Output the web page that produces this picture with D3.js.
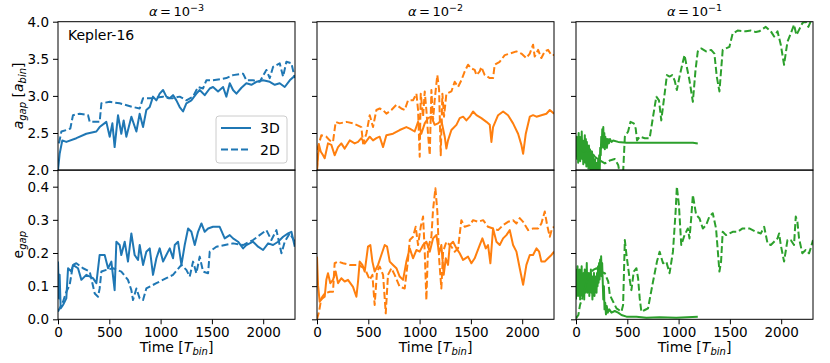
<!DOCTYPE html>
<html>
<head>
<meta charset="utf-8">
<script src="https://cdn.jsdelivr.net/npm/d3@7"></script>
<style>
body { margin: 0; background: #fff; }
text { font-family: "DejaVu Sans", sans-serif; fill: #000; }
</style>
</head>
<body>
<div id="chart"></div>
<script>
// column titles and tick labels
var alphaExp = ["\u22123", "\u22122", "\u22121"];
var xTicks = [0, 500, 1000, 1500, 2000];
var agapTicks = [2.0, 2.5, 3.0, 3.5, 4.0];
var egapTicks = [0.0, 0.1, 0.2, 0.3, 0.4];
var seriesColors = ["#1f77b4", "#ff7f0e", "#2ca02c"];

// alpha = 1e-3, [time, value]
var agap_a3_3d = [[0,2.00],[16,2.22],[42,2.40],[81,2.38],[179,2.43],[276,2.49],[374,2.52],[406,2.58],[471,2.65],[504,2.45],[530,2.63],[552,2.31],[585,2.74],[617,2.49],[640,2.67],[666,2.45],[715,2.72],[764,2.52],[796,2.76],[829,2.58],[861,2.81],[894,2.85],[926,2.99],[959,2.94],[991,3.03],[1024,3.08],[1056,2.99],[1089,2.97],[1121,3.01],[1154,2.94],[1186,2.85],[1219,2.79],[1251,2.90],[1300,2.94],[1349,3.03],[1381,3.08],[1430,3.01],[1479,3.10],[1511,3.12],[1560,3.06],[1609,3.12],[1641,2.99],[1674,3.17],[1706,3.08],[1739,3.03],[1788,3.11],[1836,3.17],[1885,3.15],[1934,3.19],[1999,3.21],[2064,3.19],[2113,3.15],[2161,3.17],[2210,3.12],[2259,3.21],[2308,3.27]];
var agap_a3_2d = [[10,2.36],[33,2.52],[81,2.54],[120,2.56],[146,2.74],[211,2.76],[293,2.74],[309,2.65],[406,2.65],[423,2.90],[504,2.92],[601,2.90],[731,2.85],[796,2.83],[829,2.97],[926,2.97],[1024,2.99],[1073,2.97],[1121,2.97],[1186,2.99],[1251,2.94],[1316,2.99],[1365,3.12],[1414,3.10],[1446,3.21],[1511,3.21],[1641,3.24],[1706,3.28],[1804,3.30],[1836,3.21],[1901,3.21],[1966,3.19],[2031,3.35],[2064,3.24],[2096,3.39],[2161,3.44],[2194,3.26],[2226,3.46],[2275,3.44],[2308,3.24]];
var egap_a3_3d = [[0,.174],[10,.063],[16,.134],[26,.033],[49,.043],[81,.063],[98,.154],[130,.144],[146,.164],[195,.154],[228,.119],[276,.134],[341,.124],[374,.109],[406,.194],[455,.194],[488,.154],[520,.174],[552,.088],[569,.234],[601,.224],[617,.194],[650,.234],[682,.174],[715,.259],[747,.194],[780,.179],[796,.224],[829,.164],[861,.204],[894,.214],[926,.134],[959,.184],[991,.214],[1024,.174],[1056,.194],[1089,.214],[1121,.184],[1138,.224],[1170,.234],[1203,.164],[1235,.224],[1268,.274],[1300,.264],[1333,.224],[1365,.264],[1398,.289],[1430,.264],[1463,.274],[1511,.279],[1576,.279],[1625,.244],[1674,.254],[1706,.244],[1755,.234],[1804,.214],[1836,.224],[1901,.234],[1950,.219],[1999,.209],[2048,.229],[2096,.224],[2145,.234],[2194,.249],[2243,.259],[2275,.264],[2308,.219]];
var egap_a3_2d = [[0,.023],[16,.033],[49,.053],[81,.083],[114,.104],[146,.164],[179,.169],[244,.154],[309,.144],[358,.078],[390,.068],[406,.093],[423,.144],[471,.149],[536,.154],[617,.144],[682,.119],[715,.088],[731,.058],[764,.093],[796,.063],[829,.058],[861,.093],[959,.109],[1056,.124],[1121,.134],[1203,.164],[1251,.149],[1284,.129],[1316,.174],[1349,.139],[1381,.189],[1414,.144],[1463,.139],[1479,.204],[1544,.219],[1706,.229],[1804,.224],[1901,.239],[2031,.269],[2080,.239],[2129,.269],[2178,.199],[2210,.234],[2259,.259],[2308,.234]];

// alpha = 1e-2
var agap_a2_3d = [[0,2.00],[10,2.18],[20,2.34],[36,2.25],[59,2.20],[75,2.16],[107,2.36],[140,2.34],[172,2.20],[205,2.31],[237,2.36],[270,2.29],[319,2.40],[367,2.36],[400,2.38],[432,2.43],[465,2.36],[514,2.45],[546,2.40],[579,2.43],[611,2.45],[644,2.31],[676,2.47],[741,2.49],[806,2.54],[871,2.58],[904,2.56],[952,2.52],[985,2.65],[1001,2.58],[1017,2.49],[1050,2.63],[1082,2.70],[1115,2.72],[1147,2.61],[1180,2.63],[1212,2.67],[1245,2.45],[1261,2.29],[1277,2.40],[1310,2.54],[1359,2.61],[1391,2.70],[1424,2.72],[1456,2.67],[1489,2.72],[1521,2.79],[1554,2.74],[1602,2.70],[1651,2.65],[1684,2.61],[1700,2.38],[1716,2.58],[1765,2.74],[1814,2.79],[1862,2.74],[1911,2.63],[1960,2.49],[1992,2.34],[2009,2.22],[2035,2.49],[2074,2.72],[2106,2.74],[2139,2.72],[2187,2.74],[2236,2.76],[2269,2.81],[2311,2.76]];
var agap_a2_2d = [[0,2.00],[10,2.31],[42,2.47],[91,2.45],[124,2.40],[156,2.38],[182,2.65],[221,2.63],[286,2.65],[351,2.63],[432,2.58],[449,2.36],[481,2.49],[514,2.74],[546,2.58],[579,2.81],[611,2.83],[644,2.81],[676,2.76],[725,2.81],[774,2.88],[822,2.83],[855,2.81],[887,2.94],[936,2.94],[969,3.03],[985,2.81],[1001,2.18],[1011,3.03],[1034,2.72],[1050,3.06],[1066,2.81],[1082,2.49],[1099,2.20],[1115,3.08],[1131,2.67],[1147,2.94],[1164,3.17],[1173,3.28],[1190,3.08],[1206,2.20],[1222,3.03],[1238,2.72],[1261,3.03],[1310,3.06],[1342,3.19],[1375,3.12],[1407,3.21],[1440,3.33],[1472,3.42],[1505,3.37],[1537,3.35],[1554,3.28],[1586,3.33],[1602,3.39],[1635,3.28],[1684,3.24],[1716,3.24],[1732,3.42],[1781,3.46],[1830,3.55],[1879,3.57],[1944,3.60],[1992,3.57],[2041,3.51],[2074,3.57],[2106,3.69],[2122,3.53],[2155,3.62],[2187,3.51],[2220,3.60],[2252,3.62],[2285,3.55],[2311,3.55]];
var egap_a2_3d = [[0,.189],[10,.103],[26,.053],[52,.063],[75,.068],[91,.119],[107,.139],[130,.109],[156,.119],[182,.144],[205,.109],[237,.124],[270,.114],[302,.119],[351,.098],[384,.068],[400,.114],[416,.174],[442,.164],[465,.144],[497,.219],[520,.224],[540,.174],[562,.144],[595,.164],[627,.194],[660,.224],[683,.219],[709,.174],[741,.164],[774,.154],[806,.129],[839,.119],[871,.174],[904,.214],[936,.184],[969,.209],[1001,.204],[1034,.224],[1066,.234],[1099,.204],[1131,.244],[1164,.254],[1190,.199],[1212,.224],[1235,.134],[1255,.184],[1277,.164],[1294,.224],[1326,.234],[1359,.214],[1391,.199],[1424,.179],[1472,.189],[1505,.169],[1537,.184],[1586,.224],[1612,.244],[1645,.214],[1667,.224],[1690,.169],[1716,.274],[1749,.234],[1781,.224],[1814,.244],[1846,.254],[1879,.269],[1911,.224],[1944,.204],[1976,.154],[2009,.104],[2041,.164],[2074,.194],[2106,.194],[2139,.214],[2165,.204],[2187,.174],[2220,.174],[2252,.184],[2285,.194],[2311,.204]];
var egap_a2_2d = [[0,0],[20,.023],[42,.063],[75,.078],[124,.083],[156,.083],[172,.169],[205,.174],[254,.169],[319,.164],[400,.164],[465,.154],[514,.119],[540,.134],[562,.043],[585,.144],[611,.159],[644,.134],[670,.018],[692,.134],[725,.154],[757,.134],[806,.098],[855,.093],[887,.179],[904,.239],[936,.249],[962,.279],[985,.224],[1011,.279],[1034,.310],[1050,.204],[1066,.058],[1082,.214],[1115,.249],[1131,.330],[1154,.395],[1173,.325],[1190,.184],[1212,.093],[1229,.204],[1261,.234],[1310,.219],[1342,.204],[1375,.214],[1407,.299],[1440,.279],[1489,.284],[1521,.299],[1570,.294],[1619,.299],[1667,.279],[1716,.274],[1765,.269],[1814,.284],[1862,.294],[1911,.299],[1944,.289],[1976,.305],[2009,.294],[2057,.269],[2106,.274],[2155,.274],[2187,.289],[2220,.325],[2243,.284],[2269,.249],[2291,.274],[2311,.279]];

// alpha = 1e-1
var agap_a1_3d = [[0,2.27],[6,2.45],[11,2.15],[16,2.42],[21,2.10],[26,2.50],[31,2.20],[36,2.45],[41,2.12],[46,2.38],[51,2.18],[56,2.52],[61,2.15],[66,2.40],[71,2.08],[76,2.35],[81,2.20],[86,2.47],[91,2.10],[96,2.42],[101,2.05],[106,2.38],[111,2.15],[116,2.30],[121,2.02],[126,2.33],[131,2.10],[136,2.28],[141,2.00],[146,2.20],[151,1.98],[156,2.25],[161,2.05],[166,2.18],[171,1.95],[176,2.12],[181,2.00],[186,2.15],[191,1.96],[196,2.10],[201,2.00],[206,2.08],[211,1.95],[216,2.15],[221,2.02],[226,2.20],[231,1.97],[236,2.30],[241,2.20],[246,2.45],[251,2.30],[256,2.55],[261,2.35],[266,2.58],[271,2.30],[276,2.50],[281,2.28],[286,2.45],[291,2.35],[296,2.42],[301,2.30],[311,2.42],[321,2.36],[331,2.42],[346,2.38],[362,2.40],[411,2.38],[492,2.37],[653,2.37],[815,2.37],[977,2.37],[1139,2.37],[1187,2.36]];
var agap_a1_2d = [[0,2.18],[39,2.31],[87,2.22],[136,2.27],[184,2.18],[233,2.13],[281,2.09],[330,2.13],[378,2.15],[411,2.07],[433,1.91],[459,1.96],[476,2.45],[508,2.52],[531,2.65],[563,2.63],[582,2.56],[595,2.40],[621,2.45],[670,2.43],[718,2.43],[751,2.72],[783,2.99],[809,2.94],[831,2.67],[864,3.03],[886,3.28],[912,3.26],[938,3.28],[961,3.21],[983,3.08],[1009,3.26],[1035,3.42],[1058,3.55],[1080,3.39],[1106,3.21],[1139,2.92],[1165,3.35],[1187,3.60],[1220,3.64],[1268,3.60],[1317,3.62],[1349,3.57],[1372,3.26],[1398,3.06],[1430,3.62],[1462,3.64],[1495,3.66],[1527,3.84],[1575,3.88],[1656,3.87],[1705,3.88],[1753,3.86],[1786,3.87],[1850,3.93],[1899,3.87],[1931,3.80],[1964,3.87],[1996,3.69],[2028,3.42],[2061,3.73],[2093,3.84],[2125,3.96],[2148,3.82],[2174,3.89],[2206,3.98],[2239,4.00],[2265,3.93],[2287,4.00],[2310,3.98]];
var egap_a1_3d = [[0,.06],[5,.15],[10,.08],[15,.16],[20,.07],[25,.14],[30,.09],[35,.15],[40,.06],[45,.13],[50,.08],[55,.16],[60,.07],[65,.12],[70,.09],[75,.14],[80,.06],[85,.15],[90,.08],[95,.12],[100,.10],[105,.17],[110,.08],[115,.13],[120,.09],[125,.14],[130,.07],[135,.12],[140,.10],[145,.15],[150,.08],[155,.13],[160,.06],[165,.11],[170,.09],[175,.14],[180,.07],[185,.12],[190,.09],[195,.13],[200,.08],[205,.14],[210,.10],[215,.16],[220,.11],[225,.17],[230,.12],[235,.18],[240,.14],[245,.19],[250,.13],[255,.17],[260,.12],[266,.06],[272,.10],[278,.03],[285,.05],[292,.015],[300,.04],[310,.02],[324,.03],[346,.02],[378,.025],[411,.02],[443,.013],[492,.008],[589,.008],[686,.005],[815,.006],[977,.005],[1187,.008]];
var egap_a1_2d = [[0,.003],[23,.013],[39,.043],[71,.073],[104,.114],[136,.134],[168,.149],[201,.154],[233,.144],[281,.139],[314,.114],[330,.073],[362,.053],[395,.033],[443,.023],[459,.043],[476,.239],[492,.194],[524,.119],[540,.088],[563,.144],[589,.154],[605,.124],[621,.063],[637,.023],[670,.028],[702,.033],[751,.114],[789,.174],[815,.204],[848,.169],[880,.174],[912,.139],[945,.204],[971,.325],[983,.400],[1003,.345],[1026,.224],[1058,.254],[1090,.274],[1106,.244],[1123,.305],[1139,.375],[1171,.315],[1203,.305],[1236,.274],[1268,.284],[1300,.310],[1333,.320],[1365,.274],[1398,.144],[1414,.174],[1430,.264],[1462,.254],[1495,.259],[1527,.264],[1575,.264],[1624,.274],[1689,.274],[1753,.264],[1802,.259],[1834,.279],[1867,.229],[1899,.224],[1931,.234],[1964,.244],[1980,.259],[1996,.224],[2028,.174],[2061,.239],[2093,.239],[2125,.224],[2142,.310],[2158,.294],[2174,.244],[2206,.199],[2239,.209],[2271,.199],[2287,.214],[2310,.239]];

var agapData = [[agap_a3_3d, agap_a3_2d], [agap_a2_3d, agap_a2_2d], [agap_a1_3d, agap_a1_2d]];
var egapData = [[egap_a3_3d, egap_a3_2d], [egap_a2_3d, egap_a2_2d], [egap_a1_3d, egap_a1_2d]];

// layout
var colLeft = [58, 317, 576],
    panelW = 237,
    topY = 21.7,
    topH = 148.4,
    botY = 170.1,
    botH = 149.2;

var svg = d3.select("#chart")
    .append("svg")
    .attr("width", 830)
    .attr("height", 363);

var x = d3.scaleLinear().domain([0, 2310]).range([0, panelW]);
var yTop = d3.scaleLinear().domain([2.0, 4.0]).range([topH, 0]);
var yBot = d3.scaleLinear().domain([0, 0.45]).range([botH, 0]);

function drawPanel(id, left, top, h, y, series, color, ticks, showY, showX) {
    var g = svg.append("g").attr("transform", "translate(" + left + "," + top + ")");

    g.append("clipPath").attr("id", id)
        .append("rect").attr("width", panelW).attr("height", h);

    var line = d3.line()
        .x(function(d) { return x(d[0]); })
        .y(function(d) { return y(d[1]); });

    var lines = g.append("g").attr("clip-path", "url(#" + id + ")");
    series.forEach(function(s, i) {
        lines.append("path")
            .datum(s)
            .attr("d", line)
            .attr("fill", "none")
            .attr("stroke", color)
            .attr("stroke-width", 2)
            .attr("stroke-linejoin", "round")
            .attr("stroke-dasharray", i == 1 ? "7,3" : null);
    });

    var yAxis = g.append("g")
        .call(d3.axisLeft(y).tickValues(ticks).tickSize(5).tickPadding(4)
            .tickFormat(showY ? d3.format(".1f") : ""));
    yAxis.select(".domain").remove();

    if (showX) {
        var xAxis = g.append("g")
            .attr("transform", "translate(0," + h + ")")
            .call(d3.axisBottom(x).tickValues(xTicks).tickSize(5).tickPadding(3)
                .tickFormat(d3.format("d")));
        xAxis.select(".domain").remove();
        xAxis.selectAll("text").attr("font-size", 13.5);
    }
    yAxis.selectAll("text").attr("font-size", 13.5);
    g.selectAll(".tick line").attr("stroke", "#000").attr("stroke-width", 1);
    g.selectAll(".tick text").attr("fill", "#000").attr("font-family", "DejaVu Sans");

    g.append("rect")
        .attr("width", panelW).attr("height", h)
        .attr("fill", "none").attr("stroke", "#000").attr("stroke-width", 1);
    return g;
}

for (var c = 0; c < 3; c++) {
    drawPanel("ca" + c, colLeft[c], topY, topH, yTop, agapData[c], seriesColors[c], agapTicks, c == 0, false);
    drawPanel("ce" + c, colLeft[c], botY, botH, yBot, egapData[c], seriesColors[c], egapTicks, c == 0, true);

    // column title
    var t = svg.append("text")
        .attr("x", colLeft[c] + panelW / 2)
        .attr("y", 16)
        .attr("text-anchor", "middle")
        .attr("font-size", 13);
    t.append("tspan").attr("font-style", "italic").text("\u03b1");
    t.append("tspan").text("\u2009=\u200910");
    t.append("tspan").attr("font-size", 9.5).attr("dy", -5).text(alphaExp[c]);

    // x label
    var xl = svg.append("text")
        .attr("x", colLeft[c] + panelW / 2)
        .attr("y", 352)
        .attr("text-anchor", "middle")
        .attr("font-size", 14);
    xl.append("tspan").text("Time [");
    xl.append("tspan").attr("font-style", "italic").text("T");
    xl.append("tspan").attr("font-style", "italic").attr("font-size", 10).attr("dy", 3).text("bin");
    xl.append("tspan").attr("dy", -3).text("]");
}

// y labels
var yl = svg.append("text")
    .attr("transform", "translate(23," + (topY + topH / 2) + ") rotate(-90)")
    .attr("text-anchor", "middle")
    .attr("font-size", 14);
yl.append("tspan").attr("font-style", "italic").text("a");
yl.append("tspan").attr("font-style", "italic").attr("font-size", 10).attr("dy", 3).text("gap");
yl.append("tspan").attr("dy", -3).text(" [");
yl.append("tspan").attr("font-style", "italic").text("a");
yl.append("tspan").attr("font-style", "italic").attr("font-size", 10).attr("dy", 3).text("bin");
yl.append("tspan").attr("dy", -3).text("]");

var el = svg.append("text")
    .attr("transform", "translate(23," + (botY + botH / 2) + ") rotate(-90)")
    .attr("text-anchor", "middle")
    .attr("font-size", 14);
el.append("tspan").text("e");
el.append("tspan").attr("font-style", "italic").attr("font-size", 10).attr("dy", 3).text("gap");

// system name
svg.append("text")
    .attr("x", 68).attr("y", 40)
    .attr("font-size", 14)
    .text("Kepler-16");

// legend
var leg = svg.append("g").attr("transform", "translate(216,116)");
leg.append("rect")
    .attr("width", 71).attr("height", 47).attr("rx", 3)
    .attr("fill", "#fff").attr("fill-opacity", 0.8)
    .attr("stroke", "#ccc").attr("stroke-width", 1);
["3D", "2D"].forEach(function(lab, i) {
    leg.append("line")
        .attr("x1", 5).attr("x2", 35)
        .attr("y1", 12 + i * 21.5).attr("y2", 12 + i * 21.5)
        .attr("stroke", seriesColors[0]).attr("stroke-width", 2)
        .attr("stroke-dasharray", i == 1 ? "7,3" : null);
    leg.append("text")
        .attr("x", 44).attr("y", 17 + i * 21.5)
        .attr("font-size", 14)
        .text(lab);
});
</script>
</body>
</html>
